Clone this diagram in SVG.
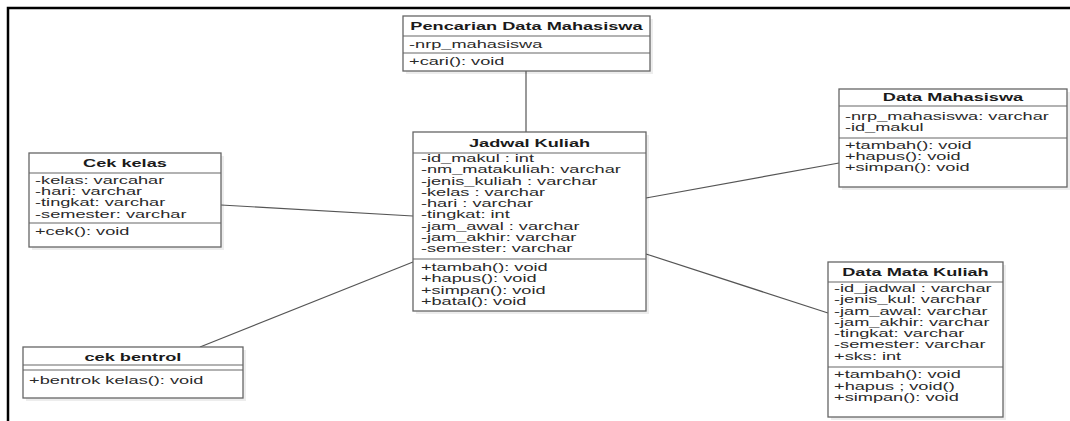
<svg xmlns="http://www.w3.org/2000/svg" width="1070" height="421" viewBox="0 0 1070 421">
<style>
.box{fill:#fff;stroke:#666;stroke-width:1.3}
.sh{fill:#000;fill-opacity:0.07}
.div{stroke:#666;stroke-width:1.2}
.t{font-family:"Liberation Sans",Arial,sans-serif;font-size:10.7px;fill:#2a2a2a}
.h{font-weight:bold;text-anchor:middle;fill:#1a1a1a}
.con{stroke:#555;stroke-width:1.2;fill:none}
</style>
<rect x="0" y="0" width="1070" height="421" fill="#fff"/>
<path d="M8,421 V8 H1070" fill="none" stroke="#000" stroke-width="2.5"/>
<g id="connectors">
<line class="con" x1="526" y1="71" x2="526" y2="132"/>
<line class="con" x1="221" y1="205" x2="413" y2="216"/>
<line class="con" x1="200" y1="347" x2="413" y2="262"/>
<line class="con" x1="646" y1="198" x2="839" y2="163"/>
<line class="con" x1="646" y1="254" x2="828" y2="313"/>
</g>
<g id="pencarian">
<rect class="sh" x="406" y="19" width="247" height="55"/>
<rect class="box" x="403" y="16" width="247" height="55"/>
<line class="div" x1="403" y1="36" x2="650" y2="36"/>
<line class="div" x1="403" y1="53" x2="650" y2="53"/>
<g transform="scale(1.7 1)">
<text class="t h" x="309.7" y="30">Pencarian Data Mahasiswa</text>
<text class="t" x="240.6" y="48">-nrp_mahasiswa</text>
<text class="t" x="240.6" y="65">+cari(): void</text>
</g>
</g>
<g id="jadwal">
<rect class="sh" x="416" y="135" width="233" height="179"/>
<rect class="box" x="413" y="132" width="233" height="179"/>
<line class="div" x1="413" y1="153" x2="646" y2="153"/>
<line class="div" x1="413" y1="259" x2="646" y2="259"/>
<g transform="scale(1.7 1)">
<text class="t h" x="311.5" y="147">Jadwal Kuliah</text>
<text class="t" x="247.6" y="162">-id_makul : int</text>
<text class="t" x="247.6" y="173.3">-nm_matakuliah: varchar</text>
<text class="t" x="247.6" y="184.6">-jenis_kuliah : varchar</text>
<text class="t" x="247.6" y="195.9">-kelas : varchar</text>
<text class="t" x="247.6" y="207.2">-hari : varchar</text>
<text class="t" x="247.6" y="218.5">-tingkat: int</text>
<text class="t" x="247.6" y="229.8">-jam_awal : varchar</text>
<text class="t" x="247.6" y="241.1">-jam_akhir: varchar</text>
<text class="t" x="247.6" y="252.4">-semester: varchar</text>
<text class="t" x="247.6" y="271">+tambah(): void</text>
<text class="t" x="247.6" y="282.3">+hapus(): void</text>
<text class="t" x="247.6" y="293.6">+simpan(): void</text>
<text class="t" x="247.6" y="304.9">+batal(): void</text>
</g>
</g>
<g id="cek-kelas">
<rect class="sh" x="32" y="156" width="192" height="94"/>
<rect class="box" x="29" y="153" width="192" height="94"/>
<line class="div" x1="29" y1="173" x2="221" y2="173"/>
<line class="div" x1="29" y1="223" x2="221" y2="223"/>
<g transform="scale(1.7 1)">
<text class="t h" x="73.5" y="167">Cek kelas</text>
<text class="t" x="20.6" y="184">-kelas: varcahar</text>
<text class="t" x="20.6" y="195">-hari: varchar</text>
<text class="t" x="20.6" y="206.5">-tingkat: varchar</text>
<text class="t" x="20.6" y="218">-semester: varchar</text>
<text class="t" x="20.6" y="235">+cek(): void</text>
</g>
</g>
<g id="data-mahasiswa">
<rect class="sh" x="842" y="92" width="228" height="98"/>
<rect class="box" x="839" y="89" width="228" height="98"/>
<line class="div" x1="839" y1="106" x2="1067" y2="106"/>
<line class="div" x1="839" y1="138" x2="1067" y2="138"/>
<g transform="scale(1.7 1)">
<text class="t h" x="560.6" y="101">Data Mahasiswa</text>
<text class="t" x="497" y="120">-nrp_mahasiswa: varchar</text>
<text class="t" x="497" y="131">-id_makul</text>
<text class="t" x="497" y="149">+tambah(): void</text>
<text class="t" x="497" y="160">+hapus(): void</text>
<text class="t" x="497" y="171">+simpan(): void</text>
</g>
</g>
<g id="data-mata-kuliah">
<rect class="sh" x="831" y="265" width="175" height="155"/>
<rect class="box" x="828" y="262" width="175" height="155"/>
<line class="div" x1="828" y1="282" x2="1003" y2="282"/>
<line class="div" x1="828" y1="367" x2="1003" y2="367"/>
<g transform="scale(1.7 1)">
<text class="t h" x="538.5" y="276">Data Mata Kuliah</text>
<text class="t" x="490.6" y="292">-id_jadwal : varchar</text>
<text class="t" x="490.6" y="303.3">-jenis_kul: varchar</text>
<text class="t" x="490.6" y="314.6">-jam_awal: varchar</text>
<text class="t" x="490.6" y="325.9">-jam_akhir: varchar</text>
<text class="t" x="490.6" y="337.2">-tingkat: varchar</text>
<text class="t" x="490.6" y="348.5">-semester: varchar</text>
<text class="t" x="490.6" y="359.8">+sks: int</text>
<text class="t" x="490.6" y="378.5">+tambah(): void</text>
<text class="t" x="490.6" y="389.8">+hapus ; void()</text>
<text class="t" x="490.6" y="401.1">+simpan(): void</text>
</g>
</g>
<g id="cek-bentrol">
<rect class="sh" x="26" y="350" width="220" height="51"/>
<rect class="box" x="23" y="347" width="220" height="51"/>
<line class="div" x1="23" y1="365" x2="243" y2="365"/>
<line class="div" x1="23" y1="370" x2="243" y2="370"/>
<g transform="scale(1.7 1)">
<text class="t h" x="78.2" y="361">cek bentrol</text>
<text class="t" x="17.1" y="384">+bentrok kelas(): void</text>
</g>
</g>
</svg>
